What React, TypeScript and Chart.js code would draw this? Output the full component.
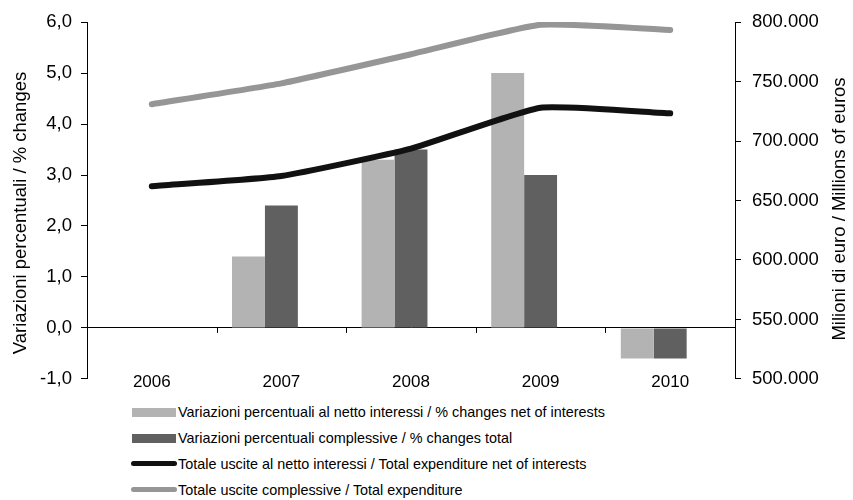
import React, { useEffect, useRef } from "react";
import { Chart, registerables } from "chart.js";

Chart.register(...registerables);

const categories = ["2006", "2007", "2008", "2009", "2010"];
const pctNetInterests: (number | null)[] = [null, 1.4, 3.3, 5.0, -0.6];
const pctTotal: (number | null)[] = [null, 2.4, 3.5, 3.0, -0.6];
// empty third bar series (reserves a slot in each group, as in the original)
const emptySeries: (number | null)[] = [null, null, null, null, null];
const expNetInterests = [662000, 670600, 693600, 728000, 723300];
const expTotal = [731000, 748500, 773000, 797800, 793400];

const labelBar1 = "Variazioni percentuali al netto interessi / % changes net of interests";
const labelBar2 = "Variazioni percentuali complessive / % changes total";
const labelLine1 = "Totale uscite al netto interessi / Total expenditure net of interests";
const labelLine2 = "Totale uscite complessive / Total expenditure";
const leftTitle = "Variazioni percentuali / % changes";
const rightTitle = "Milioni di euro / Millions of euros";

const FONT = '"Liberation Sans", Arial, Helvetica, sans-serif';
const C_LIGHT = "#b3b3b3";
const C_DARK = "#606060";
const C_BLACK = "#111111";
const C_GREY = "#969696";

const fmtThousands = (v: number) =>
  Math.round(v).toString().replace(/\B(?=(\d{3})+(?!\d))/g, ".");

export default function App() {
  const ref = useRef<HTMLCanvasElement | null>(null);

  useEffect(() => {
    if (!ref.current) return;
    Chart.defaults.font.family = FONT;
    Chart.defaults.color = "#000";

    const extras = {
      id: "extras",
      afterDatasetsDraw(chart: any) {
        const x = chart.scales.x;
        const y = chart.scales.y;
        const y0 = y.getPixelForValue(0);
        const c = chart.ctx;
        c.save();
        c.strokeStyle = "#000";
        c.lineWidth = 1;
        for (let i = 1; i < categories.length; i++) {
          const px = Math.round((x.getPixelForValue(i - 1) + x.getPixelForValue(i)) / 2) + 0.5;
          c.beginPath();
          c.moveTo(px, y0);
          c.lineTo(px, y0 + 5);
          c.stroke();
        }
        c.restore();
      },
      afterDraw(chart: any) {
        const c = chart.ctx;
        c.save();
        c.fillStyle = "#000";
        c.font = `18.5px ${FONT}`;
        c.textAlign = "center";
        c.textBaseline = "middle";
        c.translate(21, 213);
        c.rotate(-Math.PI / 2);
        c.fillText(leftTitle, 0, 0);
        c.restore();
        c.save();
        c.fillStyle = "#000";
        c.font = `18.5px ${FONT}`;
        c.textAlign = "center";
        c.textBaseline = "middle";
        c.translate(840, 209);
        c.rotate(-Math.PI / 2);
        c.fillText(rightTitle, 0, 0);
        c.restore();
      },
    };

    const barCommon = {
      type: "bar" as const,
      yAxisID: "y",
      categoryPercentage: 0.762,
      barPercentage: 1,
      order: 2,
    };

    const chart = new Chart(ref.current, {
      type: "bar",
      data: {
        labels: categories,
        datasets: [
          {
            type: "line" as const,
            label: labelLine1,
            data: expNetInterests,
            yAxisID: "y1",
            borderColor: C_BLACK,
            backgroundColor: C_BLACK,
            borderWidth: 6,
            pointRadius: 0,
            tension: 0.15,
            borderCapStyle: "round",
            borderJoinStyle: "round",
            order: 1,
          },
          {
            type: "line" as const,
            label: labelLine2,
            data: expTotal,
            yAxisID: "y1",
            borderColor: C_GREY,
            backgroundColor: C_GREY,
            borderWidth: 6,
            pointRadius: 0,
            tension: 0.15,
            borderCapStyle: "round",
            borderJoinStyle: "round",
            order: 1,
          },
          { ...barCommon, label: labelBar1, data: pctNetInterests, backgroundColor: C_LIGHT },
          { ...barCommon, label: labelBar2, data: pctTotal, backgroundColor: C_DARK },
          { ...barCommon, label: "", data: emptySeries, backgroundColor: "rgba(0,0,0,0)" },
        ] as any,
      },
      options: {
        responsive: false,
        animation: false,
        devicePixelRatio: 1,
        layout: { padding: { top: 20, bottom: 2, left: 0, right: 0 } },
        plugins: { legend: { display: false }, tooltip: { enabled: false } },
        scales: {
          x: {
            grid: { display: false, drawTicks: false },
            border: { display: false },
            ticks: { font: { size: 17, family: FONT }, color: "#000", padding: -14, mirror: true },
            afterFit: (s: any) => {
              s.height = 14;
            },
          },
          y: {
            position: "left",
            min: -1,
            max: 6,
            ticks: {
              stepSize: 1,
              font: { size: 18.5, family: FONT },
              color: "#000",
              padding: 9,
              callback: (v: any) => Number(v).toFixed(1).replace(".", ","),
            },
            grid: {
              color: (ctx: any) => (ctx.tick && ctx.tick.value === 0 ? "#000" : "rgba(0,0,0,0)"),
              tickColor: "#000",
              tickLength: 6,
              lineWidth: 1,
            },
            border: { display: true, color: "#000", width: 1 },
            title: { display: false },
            afterFit: (s: any) => {
              s.width = 87;
            },
          },
          y1: {
            position: "right",
            min: 500000,
            max: 800000,
            ticks: {
              stepSize: 50000,
              font: { size: 18.5, family: FONT },
              color: "#000",
              padding: 11,
              callback: (v: any) => fmtThousands(Number(v)),
            },
            grid: {
              drawOnChartArea: false,
              tickColor: "#000",
              tickLength: 6,
            },
            border: { display: true, color: "#000", width: 1 },
            title: { display: false },
            afterFit: (s: any) => {
              s.width = 118;
            },
          },
        },
      } as any,
      plugins: [extras],
    });
    return () => chart.destroy();
  }, []);

  const legendItems = [
    { label: labelBar1, color: C_LIGHT, kind: "bar", top: 412 },
    { label: labelBar2, color: C_DARK, kind: "bar", top: 438 },
    { label: labelLine1, color: C_BLACK, kind: "line", top: 464 },
    { label: labelLine2, color: C_GREY, kind: "line", top: 490 },
  ];

  return (
    <div style={{ position: "fixed", left: 0, top: 0, width: 853, height: 500, background: "#fff", fontFamily: FONT }}>
      <canvas ref={ref} width={853} height={401} style={{ position: "absolute", left: 0, top: 0 }} />
      {legendItems.map((it) => (
        <div key={it.label}>
          <div
            style={{
              position: "absolute",
              left: it.kind === "bar" ? 132 : 131,
              top: it.top - (it.kind === "bar" ? 4 : 3),
              width: it.kind === "bar" ? 44 : 46,
              height: it.kind === "bar" ? 9 : 5,
              background: it.color,
              borderRadius: it.kind === "bar" ? 0 : 3,
            }}
          />
          <div
            style={{
              position: "absolute",
              left: 178,
              top: it.top - 9,
              fontSize: 14.4,
              lineHeight: "18px",
              color: "#000",
              whiteSpace: "nowrap",
            }}
          >
            {it.label}
          </div>
        </div>
      ))}
    </div>
  );
}
